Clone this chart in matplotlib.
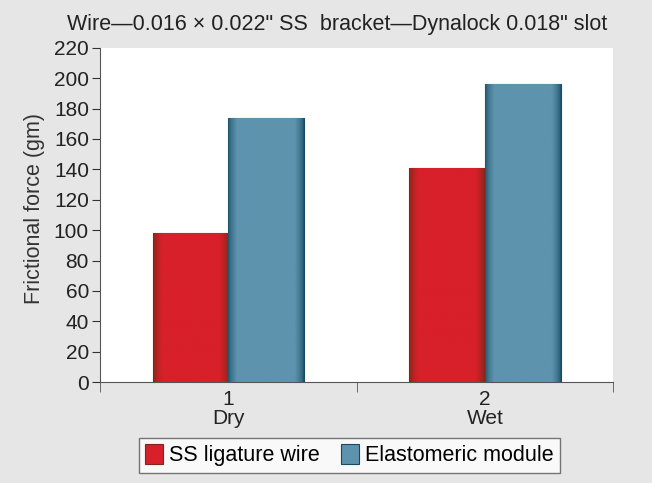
import matplotlib
matplotlib.use("Agg")
import matplotlib.pyplot as plt
from matplotlib.colors import LinearSegmentedColormap
import numpy as np

plt.rcParams['font.family'] = ['Liberation Sans', 'DejaVu Sans']

categories = ["1\nDry", "2\nWet"]
series_names = ["SS ligature wire", "Elastomeric module"]
ss_wire = [98, 141]
elastomeric = [174, 196]
yticks = list(range(0, 221, 20))
title = "Wire\u20140.016 \u00d7 0.022\" SS  bracket\u2014Dynalock 0.018\" slot"

fig = plt.figure(figsize=(6.52, 4.83), dpi=100)
fig.patch.set_facecolor('#e6e6e6')
ax = fig.add_axes([0.1534, 0.209, 0.787, 0.692])
ax.set_facecolor('white')

x = np.arange(len(categories))
w = 0.295
b1 = ax.bar(x - w/2, ss_wire, w, color='#d7202a', edgecolor='#7a2a1a', linewidth=0.8, label=series_names[0])
b2 = ax.bar(x + w/2, elastomeric, w, color='#5e93ad', edgecolor='#1a4a60', linewidth=0.8, label=series_names[1])

# cylinder-like shading across each bar
t = np.linspace(0, 1, 200)
profile = np.clip(np.minimum(t, 1 - t) / 0.12, 0, 1) ** 0.6
grad = profile[np.newaxis, :]
for bars, dark, light in [(b1, '#7a2a1a', '#d7202a'), (b2, '#1a4f66', '#5e93ad')]:
    cmap = LinearSegmentedColormap.from_list('g', [dark, light])
    for r in bars:
        im = ax.imshow(grad, cmap=cmap, aspect='auto', vmin=0, vmax=1,
                       extent=(r.get_x(), r.get_x() + r.get_width(), 0, r.get_height()),
                       zorder=r.get_zorder() + 0.1, interpolation='bilinear')
        im.set_clip_path(r)

ax.set_xlim(-0.5, 1.5)
ax.set_ylim(0, 220)
ax.set_yticks(yticks)
ax.tick_params(axis='y', labelsize=15, length=6, pad=2, direction='out', colors='#333333', labelcolor='#222222')
ax.set_xticks(x)
ax.set_xticklabels(categories, fontsize=15, color='#222222', linespacing=1.0)
ax.tick_params(axis='x', length=0, pad=6)
ax.set_xticks([-0.5, 0.5, 1.5], minor=True)
ax.tick_params(axis='x', which='minor', length=7, direction='out', colors='#555555')
for s in ['top', 'right']:
    ax.spines[s].set_visible(False)
for s in ['left', 'bottom']:
    ax.spines[s].set_color('#555555')
ax.set_ylabel("Frictional force (gm)", fontsize=15.5, color='#333333')
ax.yaxis.set_label_coords(-0.107, 0.52)

fig.text(0.517, 0.950, title, ha='center', va='center', fontsize=15.5, color='#222222')

leg = fig.legend(handles=[b1, b2], labels=series_names, loc='center', bbox_to_anchor=(0.536, 0.057),
                 ncol=2, fontsize=15.5, frameon=True, fancybox=False, edgecolor='#555555',
                 handlelength=0.8, handleheight=1.0, handletextpad=0.3, columnspacing=1.0,
                 borderpad=0.3)
leg.get_frame().set_linewidth(1.0)

fig.savefig("out.png", dpi=100, facecolor=fig.get_facecolor())
